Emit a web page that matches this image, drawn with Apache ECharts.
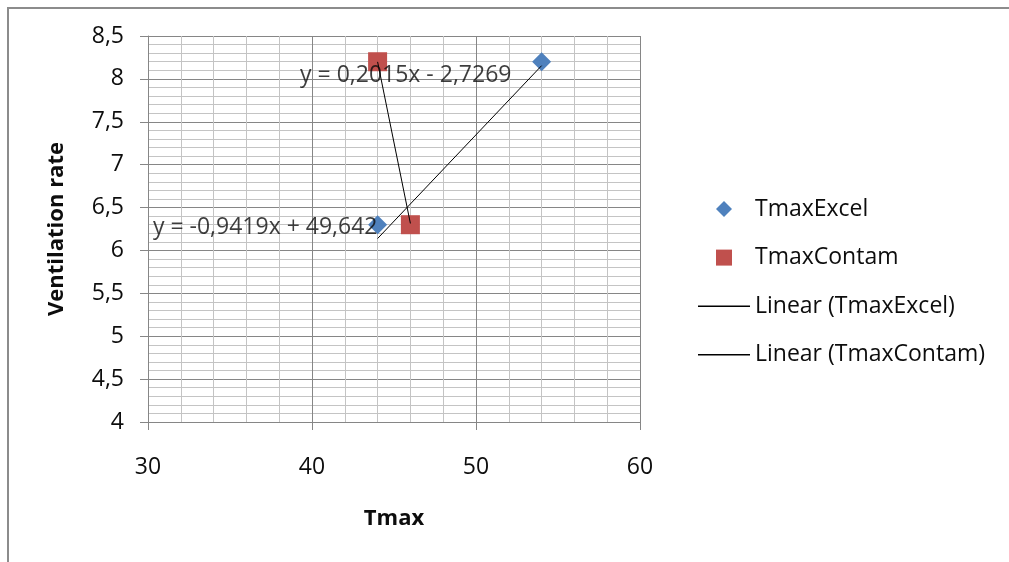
<!DOCTYPE html>
<html>
<head>
<meta charset="utf-8">
<script src="https://cdn.jsdelivr.net/npm/echarts@6/dist/echarts.min.js"></script>
<style>
  html, body { margin: 0; padding: 0; background: #fff; }
  #chart { width: 1009px; height: 562px; }
</style>
</head>
<body>
<div id="chart"></div>
<script>
// Measured points
const excelX = [44, 54];
const excelY = [6.3, 8.2];
const contamX = [44, 46];
const contamY = [8.2, 6.3];

// Least-squares trendlines: [slope, intercept]
const excelFit = [0.2015, -2.7269];
const contamFit = [-0.9419, 49.642];

// Axis ranges and tick steps
const xRange = [30, 60];
const xStep = 10;
const yRange = [4, 8.5];
const yStep = 0.5;

const seriesNames = ['TmaxExcel', 'TmaxContam', 'Linear (TmaxExcel)', 'Linear (TmaxContam)'];

const FONT = '"Open Sans", "Noto Sans", sans-serif';
const TEXT = '#0d0d0d';
const comma = v => String(v).replace('.', ',');

function fitLine(fit, xs) {
  const lo = Math.min(...xs), hi = Math.max(...xs);
  return [[lo, fit[0] * lo + fit[1]], [hi, fit[0] * hi + fit[1]]];
}
function equationText(fit) {
  const b = fit[1];
  return 'y = ' + comma(fit[0]) + 'x ' + (b < 0 ? '- ' : '+ ') + comma(Math.abs(b));
}

// Legend icons (paths keep their aspect ratio inside the legend item box)
const ICON_DIAMOND = 'path://M8.5,0 L17,8.5 L8.5,17 L0,8.5 Z';
const ICON_SQUARE = 'path://M0,0 L16,0 L16,16 L0,16 Z';
const ICON_LINE = 'path://M0,0 L52,0 L52,1.5 L0,1.5 Z';

const chart = echarts.init(document.getElementById('chart'), null, { renderer: 'canvas' });

const majorLine = { show: true, lineStyle: { color: '#868686', width: 1 } };
const minorLine = { show: true, lineStyle: { color: '#c4c4c4', width: 1 } };

chart.setOption({
  animation: false,
  backgroundColor: '#ffffff',
  textStyle: { fontFamily: FONT },
  graphic: [{
    type: 'polyline',
    shape: { points: [[8, 562], [8, 8], [1009, 8]] },
    style: { stroke: '#8c8c8c', lineWidth: 2, fill: null },
    silent: true
  }],
  grid: { left: 148, right: 369, top: 36, bottom: 140 },
  xAxis: {
    type: 'value',
    min: xRange[0], max: xRange[1], interval: xStep,
    name: 'Tmax', nameLocation: 'middle', nameGap: 86,
    nameTextStyle: { fontFamily: FONT, fontSize: 22, fontWeight: 'bold', color: TEXT },
    axisLine: { show: true, onZero: false, lineStyle: { color: '#868686', width: 1 } },
    axisTick: { show: true, length: 8, lineStyle: { color: '#868686' } },
    axisLabel: { fontFamily: FONT, fontSize: 23, color: TEXT, margin: 34 },
    splitLine: majorLine,
    minorTick: { show: false, splitNumber: 5 },
    minorSplitLine: minorLine
  },
  yAxis: {
    type: 'value',
    min: yRange[0], max: yRange[1], interval: yStep,
    name: 'Ventilation rate', nameLocation: 'middle', nameGap: 80,
    nameTextStyle: { fontFamily: FONT, fontSize: 22, fontWeight: 'bold', color: TEXT },
    axisLine: { show: true, onZero: false, lineStyle: { color: '#868686', width: 1 } },
    axisTick: { show: true, length: 8, lineStyle: { color: '#868686' } },
    axisLabel: { fontFamily: FONT, fontSize: 23, color: TEXT, margin: 24, formatter: v => comma(v) },
    splitLine: majorLine,
    minorTick: { show: false, splitNumber: 5 },
    minorSplitLine: minorLine
  },
  legend: {
    orient: 'vertical',
    left: 693, top: 192,
    itemWidth: 52, itemHeight: 16, itemGap: 24.6,
    textStyle: { fontFamily: FONT, fontSize: 23, color: TEXT, lineHeight: 24 },
    data: [
      { name: seriesNames[0], icon: ICON_DIAMOND },
      { name: seriesNames[1], icon: ICON_SQUARE },
      { name: seriesNames[2], icon: ICON_LINE },
      { name: seriesNames[3], icon: ICON_LINE }
    ]
  },
  series: [
    {
      name: seriesNames[0], type: 'scatter', symbol: 'diamond', symbolSize: 19,
      itemStyle: { color: '#4f81bd', opacity: 1 }, z: 2,
      data: excelX.map((x, i) => [x, excelY[i]])
    },
    {
      name: seriesNames[1], type: 'scatter', symbol: 'rect', symbolSize: 19,
      itemStyle: { color: '#c0504d', opacity: 1 }, z: 2,
      data: contamX.map((x, i) => [x, contamY[i]])
    },
    {
      name: seriesNames[2], type: 'line', symbol: 'none', z: 3,
      lineStyle: { color: '#000000', width: 1 }, itemStyle: { color: '#000000' },
      data: fitLine(excelFit, excelX)
    },
    {
      name: seriesNames[3], type: 'line', symbol: 'none', z: 3,
      lineStyle: { color: '#000000', width: 1 }, itemStyle: { color: '#000000' },
      data: fitLine(contamFit, contamX)
    },
    {
      // trendline equation labels
      name: 'equations', type: 'scatter', symbolSize: 0, z: 5, silent: true,
      label: {
        show: true, position: 'right', distance: 0,
        fontFamily: FONT, fontSize: 23, color: TEXT,
        formatter: p => p.data.text
      },
      data: [
        { value: [39.27, 8.04], text: equationText(excelFit) },
        { value: [30.3, 6.27], text: equationText(contamFit) }
      ]
    }
  ]
});
</script>
</body>
</html>
